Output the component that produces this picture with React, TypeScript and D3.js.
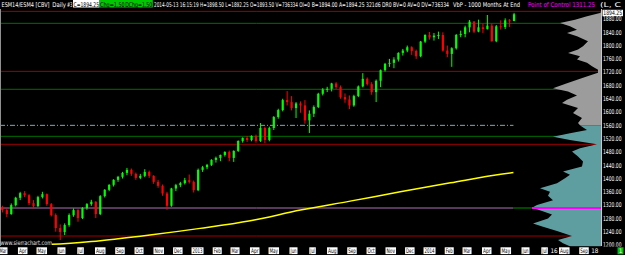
import React from 'react';
import * as d3 from 'd3';

// ---------- DATA ----------
const firstWeek = '2012-02-27';
const lastDay = '2014-05-13';
const opens = [1312,1305,1293,1320,1342,1356,1350,1326,1317,1344,1353,1323,1290,1251,1239,1260,1290,1305,1281,1311,1323,1330,1293,1347,1366,1381,1396,1405,1417,1426,1414,1402,1408,1420,1408,1390,1378,1355,1318,1370,1380,1386,1395,1390,1365,1426,1434,1441,1456,1462,1471,1480,1462,1483,1513,1522,1516,1528,1513,1552,1516,1552,1585,1606,1636,1630,1612,1626,1620,1575,1595,1615,1655,1668,1670,1686,1675,1645,1638,1620,1648,1677,1700,1684,1660,1694,1726,1745,1748,1758,1778,1785,1795,1784,1768,1812,1832,1825,1830,1832,1785,1775,1792,1832,1835,1855,1872,1842,1855,1850,1860,1813,1858,1856,1876,1874];
const highs = [1318,1310,1325,1345,1360,1362,1353,1335,1348,1360,1355,1326,1295,1262,1265,1295,1310,1308,1314,1326,1336,1332,1350,1368,1383,1398,1408,1420,1432,1430,1418,1414,1428,1424,1410,1396,1382,1360,1372,1384,1390,1402,1412,1394,1430,1438,1444,1458,1466,1472,1482,1484,1485,1515,1524,1528,1530,1532,1567,1556,1556,1588,1610,1640,1663,1648,1630,1632,1636,1605,1620,1658,1672,1676,1688,1690,1680,1656,1650,1652,1680,1717,1704,1690,1698,1728,1748,1760,1765,1780,1790,1800,1798,1788,1814,1834,1841,1838,1842,1840,1800,1795,1835,1845,1860,1877,1874,1878,1866,1892,1866,1862,1876,1882,1880,1898.5];
const lows = [1298,1284,1291,1316,1335,1344,1320,1310,1314,1340,1318,1286,1240,1215,1230,1255,1285,1270,1278,1306,1318,1281,1290,1343,1362,1376,1390,1400,1410,1408,1396,1398,1404,1402,1384,1372,1348,1306,1315,1362,1374,1382,1385,1358,1362,1420,1428,1438,1448,1452,1466,1452,1450,1480,1508,1510,1512,1508,1510,1507,1512,1546,1580,1602,1620,1605,1582,1598,1565,1537,1585,1612,1650,1660,1662,1670,1640,1628,1609,1616,1645,1674,1680,1652,1630,1675,1722,1736,1732,1752,1770,1780,1772,1760,1765,1808,1818,1815,1820,1782,1765,1736,1788,1825,1825,1840,1838,1840,1838,1848,1812,1810,1848,1850,1856,1873];
const closes = [1305,1293,1320,1342,1356,1350,1326,1317,1344,1353,1323,1290,1251,1239,1260,1290,1305,1281,1311,1323,1330,1293,1347,1366,1381,1396,1405,1417,1426,1414,1402,1408,1420,1408,1390,1378,1355,1318,1370,1380,1386,1395,1390,1365,1426,1434,1441,1456,1462,1471,1480,1462,1483,1513,1522,1516,1528,1513,1552,1516,1552,1585,1606,1636,1630,1612,1626,1620,1575,1595,1615,1655,1668,1670,1686,1675,1645,1638,1620,1648,1677,1700,1684,1660,1694,1726,1745,1748,1758,1778,1785,1795,1784,1768,1812,1832,1825,1830,1832,1785,1775,1792,1832,1835,1855,1872,1842,1855,1850,1860,1813,1858,1856,1876,1874,1894.25];

const maDates = ['2012-05-17','2012-08-01','2012-10-18','2013-01-05','2013-03-25','2013-06-12','2013-08-29','2013-11-16','2014-02-03','2014-04-23','2014-05-13'];
const maValues = [1202,1213,1230,1250,1273,1305,1332,1360,1387,1413,1418];

const profilePrices = [1900,1898,1888,1878,1868,1858,1848,1838,1828,1813,1798,1788,1778,1768,1758,1748,1738,1727,1718,1703,1687,1672,1662,1650,1637,1627,1612,1597,1582,1567,1560,1556,1546,1536,1526,1516,1503,1491,1481,1466,1451,1436,1421,1411,1401,1386,1371,1360,1348,1335,1320,1312,1302,1292,1280,1265,1255,1242,1227,1215,1205,1195];
const profileVols = [0,1,14,26,41,31,24,34,24,13,18,23,33,21,24,14,9,3,3,18,34,48,33,24,34,39,23,28,19,23,21,19,14,31,48,31,4,21,29,23,18,19,38,31,36,44,61,51,53,48,64,69,59,49,53,68,58,44,29,43,38,30];
const valueAreaTop = 1560;

const redLevels = [1903, 1722.5, 1503, 1227];
const greenLevels = [1867, 1668.5, 1527];
const dashLevel = 1560;
const pocLevel = 1311.25;

const yTicks = [1200,1240,1280,1320,1360,1400,1440,1480,1520,1560,1600,1640,1680,1720,1760,1800,1840,1880];
const lastPrice = 1894.25;
const dayMarks = [['2014-07-16','16'],['2014-09-18','18']];

const headerParts = [
  { t: 'ESM14/ESM4 [CBV]', x0: 1.5, x1: 49.5, box: '' , c: '#ffffff'},
  { t: 'Daily', x0: 52.3, x1: 66, box: '', c: '#ffffff' },
  { t: '#3', x0: 67, x1: 72.5, box: '', c: '#ffffff' },
  { t: 'C=1894.25', x0: 73.5, x1: 99, box: '#ffffff', c: '#000000' },
  { t: 'Chg=1.50', x0: 100, x1: 124.7, box: '#00c800', c: '#000000' },
  { t: 'DChg=1.50', x0: 125.2, x1: 152.3, box: '#00c800', c: '#000000' },
  { t: '2014-05-13 16:15:19 H=1898.50 L=1892.25 O=1893.50 V=736334 OI=0', x0: 154, x1: 310, box: '', c: '#ffffff' },
  { t: 'B=1894.00 A=1894.25 321d6 DR0 BV=0 AV=0 DV=736334', x0: 311.7, x1: 449, box: '', c: '#ffffff' },
  { t: 'VbP - 1000 Months At End', x0: 453, x1: 520, box: '', c: '#ffffff' },
  { t: 'Point of Control 1311.25', x0: 528, x1: 595, box: '', c: '#ff00ff' },
  { t: '(L, C', x0: 600, x1: 621, box: '', c: '#ffffff' },
];

const monthTextW: Record<string, number> = { Jan: 10, Feb: 7, Mar: 7, Apr: 7.5, May: 8.5, Jun: 6, Jul: 4.5, Aug: 8.5, Sep: 7.5, Oct: 7, Nov: 8.5, Dec: 7.5 };

const FONT = "'Liberation Sans Narrow','DejaVu Sans Condensed','Liberation Sans',sans-serif";

export default function App() {
  React.useEffect(() => { document.body.style.margin = '0'; }, []);
  const W = 625, H = 255;
  const parse = (s: string) => new Date(s + 'T00:00:00Z');
  const x = d3.scaleUtc().domain([parse('2012-03-01'), parse('2014-09-01')]).range([3, 584]);
  const y = d3.scaleLinear().domain([1200, 1880]).range([245, 19]);
  const xv = d3.scaleLinear().domain([0, 70]).range([601, 531]);

  const weeks = d3.utcMonday.range(parse(firstWeek), parse(lastDay));
  const candles = weeks.map((d, i) => ({ d, o: opens[i], h: highs[i], l: lows[i], c: closes[i] }));
  const lastX = x(parse(lastDay));

  const maLine = d3.line<number>().curve(d3.curveMonotoneX).x((_, i) => x(parse(maDates[i]))).y(v => y(v))(maValues) || '';

  const prof = profilePrices.map((p, i) => [p, profileVols[i]] as [number, number]);
  const area = d3.area<[number, number]>().y(d => y(d[0])).x0(xv(0)).x1(d => xv(d[1]));
  const upper = area(prof.filter(d => d[0] >= valueAreaTop)) || '';
  const lower = area(prof.filter(d => d[0] <= valueAreaTop)) || '';

  const months = d3.utcMonth.range(parse('2012-03-01'), parse('2014-09-02'));
  const pocX = xv(profileVols[profilePrices.indexOf(1312)]);

  return (
    <svg width={W} height={H} style={{ position: 'absolute', left: 0, top: 0, display: 'block' }} fontFamily={FONT}>
      <defs>
        <clipPath id="plot"><rect x={0} y={9} width={601} height={237.5} /></clipPath>
      </defs>
      <rect x={0} y={0} width={W} height={H} fill="#000" />
      <g clipPath="url(#plot)">
        {greenLevels.map(p => <line key={'g' + p} x1={0} x2={601} y1={y(p)} y2={y(p)} stroke="#007000" strokeWidth={1} />)}
        {redLevels.map(p => <line key={'r' + p} x1={0} x2={601} y1={y(p)} y2={y(p)} stroke="#a00000" strokeWidth={1} />)}
        <line x1={0} x2={lastX} y1={y(dashLevel)} y2={y(dashLevel)} stroke="#7fa8b0" strokeWidth={1} strokeDasharray="5,2,1,2" />
        <line x1={0} x2={lastX} y1={y(pocLevel)} y2={y(pocLevel)} stroke="#b070b8" strokeWidth={1} />
        <line x1={lastX} x2={pocX} y1={y(pocLevel)} y2={y(pocLevel)} stroke="#006000" strokeWidth={1.5} />
        <path d={maLine} fill="none" stroke="#ffff00" strokeWidth={1.5} />
        {candles.map((k, i) => {
          const cx = x(d3.utcDay.offset(k.d, 2));
          const up = k.c >= k.o;
          const col = up ? '#00ff00' : '#ff0000';
          const top = y(Math.max(k.o, k.c)), bot = y(Math.min(k.o, k.c));
          return (
            <g key={i}>
              <line x1={cx} x2={cx} y1={y(k.h)} y2={y(k.l)} stroke={col} strokeWidth={1} />
              <rect x={cx - 1.1} y={top} width={2.2} height={Math.max(1, bot - top)} fill={col} />
            </g>
          );
        })}
        <path d={upper} fill="#9c9c9c" />
        <path d={lower} fill="#5f9ea0" />
        <line x1={pocX} x2={601} y1={y(pocLevel)} y2={y(pocLevel)} stroke="#ff00ff" strokeWidth={2} />
      </g>
      {/* left border */}
      <line x1={0.5} x2={0.5} y1={9} y2={246} stroke="#909090" strokeWidth={1} />
      {/* y axis */}
      <line x1={601.5} x2={601.5} y1={9} y2={246} stroke="#c8c8c8" strokeWidth={1} />
      {yTicks.map(t => (
        <text key={t} x={603} y={y(t)} dy="0.35em" fill="#fff" fontSize={6.5} textLength={18.5} lengthAdjust="spacingAndGlyphs">{t.toFixed(2)}</text>
      ))}
      <rect x={602.5} y={9.8} width={20.5} height={6.4} fill="#fff" />
      <text x={603.3} y={13} dy="0.35em" fill="#000" fontSize={6.2} textLength={18.8} lengthAdjust="spacingAndGlyphs">{lastPrice.toFixed(2)}</text>
      {/* bottom band */}
      <rect x={0} y={246.5} width={W} height={H - 246.5} fill="#000" />
      <text x={0.5} y={244.5} fill="#e0e0e0" fontSize={6.3} textLength={51.5} lengthAdjust="spacingAndGlyphs">www.sierrachart.com</text>
      {months.map((m, i) => {
        const name = d3.utcFormat('%b')(m);
        const label = name === 'Jan' ? d3.utcFormat('%Y')(m) : name;
        const tw = monthTextW[name];
        const cx = x(m);
        return (
          <g key={i}>
            <rect x={cx - tw / 2 - 1} y={247.3} width={tw + 2} height={6.8} fill="#fff" />
            <text x={cx - tw / 2} y={253.2} fill="#000" fontSize={6.3} textLength={tw} lengthAdjust="spacingAndGlyphs">{label}</text>
          </g>
        );
      })}
      {dayMarks.map(([d, t]) => (
        <text key={t} x={x(parse(d))} y={253.2} textAnchor="middle" fill="#fff" fontSize={6.3}>{t}</text>
      ))}
      <rect x={617.5} y={247.3} width={6} height={7} fill="#00c000" />
      <text x={620.5} y={253.3} textAnchor="middle" fill="#fff" fontSize={6.3}>1</text>
      {/* header */}
      {headerParts.map((p, i) => (
        <g key={i}>
          {p.box && <rect x={p.x0 - 0.5} y={0} width={p.x1 - p.x0 + 1} height={7.5} fill={p.box} />}
          <text x={p.x0} y={6.5} fill={p.c} fontSize={6.5} textLength={p.x1 - p.x0} lengthAdjust="spacingAndGlyphs">{p.t}</text>
        </g>
      ))}
    </svg>
  );
}
